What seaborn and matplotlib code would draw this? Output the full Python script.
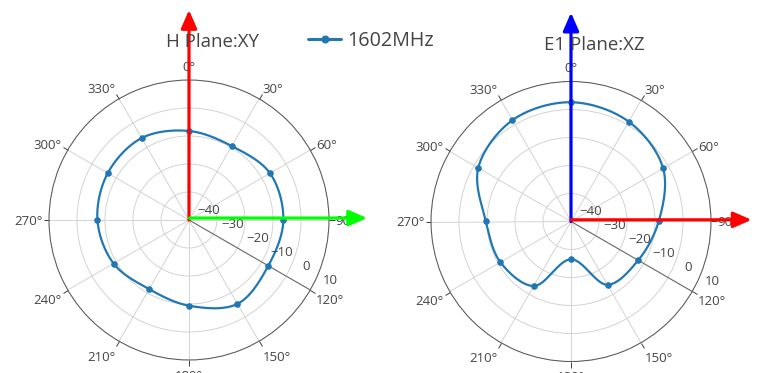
import numpy as np
import matplotlib
matplotlib.use("Agg")
import matplotlib.pyplot as plt
import matplotlib.transforms as mtransforms
from matplotlib.lines import Line2D
import seaborn as sns

# ---------------- data ----------------
angles_deg = [0, 30, 60, 90, 120, 150, 180, 210, 240, 270, 300, 330]
h_plane_db = [-8.2, -9.5, -6.6, -6.3, -7.3, -5.4, -9.4, -11.5, -8.9, -7.3, -6.5, -6.2]
e1_plane_db = [2.6, 1.2, -2.0, -8.7, -12.3, -13.9, -26.5, -13.4, -10.9, -9.6, -1.75, 1.8]
series_name = "1602MHz"
titles = ["H Plane:XY", "E1 Plane:XZ"]
angle_ticks = [0, 30, 60, 90, 120, 150, 180, 210, 240, 270, 300, 330]
angle_tick_labels = ["0°", "30°", "60°", "90°", "120°", "150°", "180°",
                     "210°", "240°", "270°", "300°", "330°"]
radial_ticks = [-40, -30, -20, -10, 0, 10]
radial_tick_labels = ["\u221240", "\u221230", "\u221220", "\u221210", "0", "10"]
r_min, r_max = -40, 10
radial_axis_angle = 120

# ---------------- style ----------------
sns.set_style("white")
plt.rcParams["font.family"] = ["Open Sans", "DejaVu Sans"]
LINE_C = "#1f77b4"
TXT_C = "#444444"
GRID_C = "#d4d4d4"
PX = 0.72  # points per pixel at dpi 100
TICK_FS_PX = 13.2


def plotly_spline_closed(theta_deg, r, rmin, n=40):
    """Closed centripetal Catmull-Rom spline (as plotly's 'spline' line shape)."""
    th = np.deg2rad(theta_deg)
    rr = np.asarray(r, float) - rmin
    pts = np.column_stack([rr * np.sin(th), rr * np.cos(th)])
    P = len(pts)
    tans = []
    for i in range(P):
        prev, cur, nxt = pts[i - 1], pts[i], pts[(i + 1) % P]
        d1 = prev - cur
        d2 = nxt - cur
        d1a = (d1 @ d1) ** 0.25
        d2a = (d2 @ d2) ** 0.25
        num = d2a * d2a * d1 - d1a * d1a * d2
        t0 = cur + num / (3 * d2a * (d1a + d2a))
        t1 = cur - num / (3 * d1a * (d1a + d2a))
        tans.append((t0, t1))
    t = np.linspace(0, 1, n, endpoint=False)[:, None]
    segs = []
    for i in range(P):
        p0 = pts[i]
        c1 = tans[i][1]
        c2 = tans[(i + 1) % P][0]
        p3 = pts[(i + 1) % P]
        segs.append((1 - t) ** 3 * p0 + 3 * (1 - t) ** 2 * t * c1
                    + 3 * (1 - t) * t ** 2 * c2 + t ** 3 * p3)
    curve = np.vstack(segs + [pts[:1]])
    theta = np.unwrap(np.arctan2(curve[:, 0], curve[:, 1]))
    radius = np.hypot(curve[:, 0], curve[:, 1]) + rmin
    return theta, radius


W, H = 759, 373
fig = plt.figure(figsize=(W / 100, H / 100), dpi=100)
fig.patch.set_facecolor("white")

R = 140
panels = [
    dict(center=(189, 220), data=h_plane_db, title=titles[0], title_xy=(212.5, 46.7),
         arrows=[("#ff0000", (0.5, 1.25), (0.5, 0.5)), ("#00ff00", (1.136, 0.507), (0.5, 0.507))]),
    dict(center=(571, 221.5), data=e1_plane_db, title=titles[1], title_xy=(594.2, 50.0),
         arrows=[("#0000ff", (0.5, 1.246), (0.5, 0.5)), ("#ff0000", (1.145, 0.506), (0.5, 0.506))]),
]

for p in panels:
    cx, cy = p["center"]
    ax = fig.add_axes([(cx - R) / W, (H - cy - R) / H, 2 * R / W, 2 * R / H], projection="polar")
    ax.set_theta_zero_location("N")
    ax.set_theta_direction(-1)
    ax.set_ylim(r_min, r_max)
    ax.set_xticks(np.deg2rad(angle_ticks))
    ax.set_xticklabels([])
    ax.set_yticks(radial_ticks)
    ax.set_yticklabels([])
    ax.tick_params(axis="x", which="major", bottom=False, top=True, direction="out",
                   length=5.5 * PX, width=1 * PX, color=TXT_C)
    ax.tick_params(axis="y", length=0)
    ax.grid(True, color=GRID_C, lw=1 * PX)
    ax.set_axisbelow(True)
    ax.spines["polar"].set_color("#555555")
    ax.spines["polar"].set_linewidth(1 * PX)
    ax.set_facecolor("white")

    # radial axis line
    ra = np.deg2rad(radial_axis_angle)
    ax.plot([ra, ra], [r_min, r_max], color="#666666", lw=1 * PX, zorder=2, clip_on=False)

    # data curve (spline) + markers
    th, rr = plotly_spline_closed(angles_deg, p["data"], r_min)
    sns.lineplot(x=th, y=rr, sort=False, estimator=None, ax=ax, color=LINE_C,
                 lw=2.2 * PX, zorder=3)
    sns.scatterplot(x=np.deg2rad(angles_deg), y=p["data"], ax=ax, color=LINE_C,
                    s=(6.6 * PX) ** 2, linewidth=0, zorder=4)
    ax.set_xlabel("")
    ax.set_ylabel("")
    ax.set_ylim(r_min, r_max)

    # angular tick labels (plotly-like placement)
    pad = 6.7
    for ang, lab in zip(angle_ticks, angle_tick_labels):
        a = np.deg2rad(ang)
        c = np.sin(a)
        s = np.cos(a)
        ff = 0.2 if s > 0.01 else 1.0
        base_down = -s * (pad + TICK_FS_PX * ff) + abs(c) * TICK_FS_PX * 0.35
        if abs(s) < 0.01:
            base_down = TICK_FS_PX * 0.35
        dx = c * pad
        ha = "left" if c > 0.01 else ("right" if c < -0.01 else "center")
        tr = mtransforms.offset_copy(ax.transData, fig=fig, x=dx, y=-base_down, units="dots")
        ax.text(a, r_max, lab, transform=tr, ha=ha, va="baseline",
                fontsize=TICK_FS_PX * PX, color=TXT_C, clip_on=False)

    # radial tick labels
    for val, lab in zip(radial_ticks, radial_tick_labels):
        tr = mtransforms.offset_copy(ax.transData, fig=fig, x=19.8, y=6.4, units="dots")
        ax.text(ra, val, lab, transform=tr, ha="center", va="baseline",
                fontsize=TICK_FS_PX * PX, color=TXT_C, clip_on=False, zorder=5)

    # axis arrows
    for col, tip, start in p["arrows"]:
        ax.annotate("", xy=tip, xytext=start, xycoords="axes fraction",
                    textcoords="axes fraction", annotation_clip=False,
                    arrowprops=dict(arrowstyle="-|>,head_length=11,head_width=4.8",
                                    color=col, lw=3.2 * PX, shrinkA=0, shrinkB=0,
                                    mutation_scale=1),
                    zorder=10)

    tx, ty = p["title_xy"]
    fig.text(tx / W, 1 - ty / H, p["title"], ha="center", va="baseline",
             fontsize=18.7 * PX, color=TXT_C)

handle = Line2D([], [], color=LINE_C, lw=3 * PX, marker="o", markersize=6.6 * PX)
fig.legend(handles=[handle], labels=[series_name], loc="center left",
           bbox_to_anchor=(308 / W, 1 - 41 / H), frameon=False, borderpad=0,
           borderaxespad=0, handlelength=1.67, handletextpad=0.33,
           fontsize=19.8 * PX, labelcolor=TXT_C)

fig.savefig("out.png", dpi=100, facecolor="white")
